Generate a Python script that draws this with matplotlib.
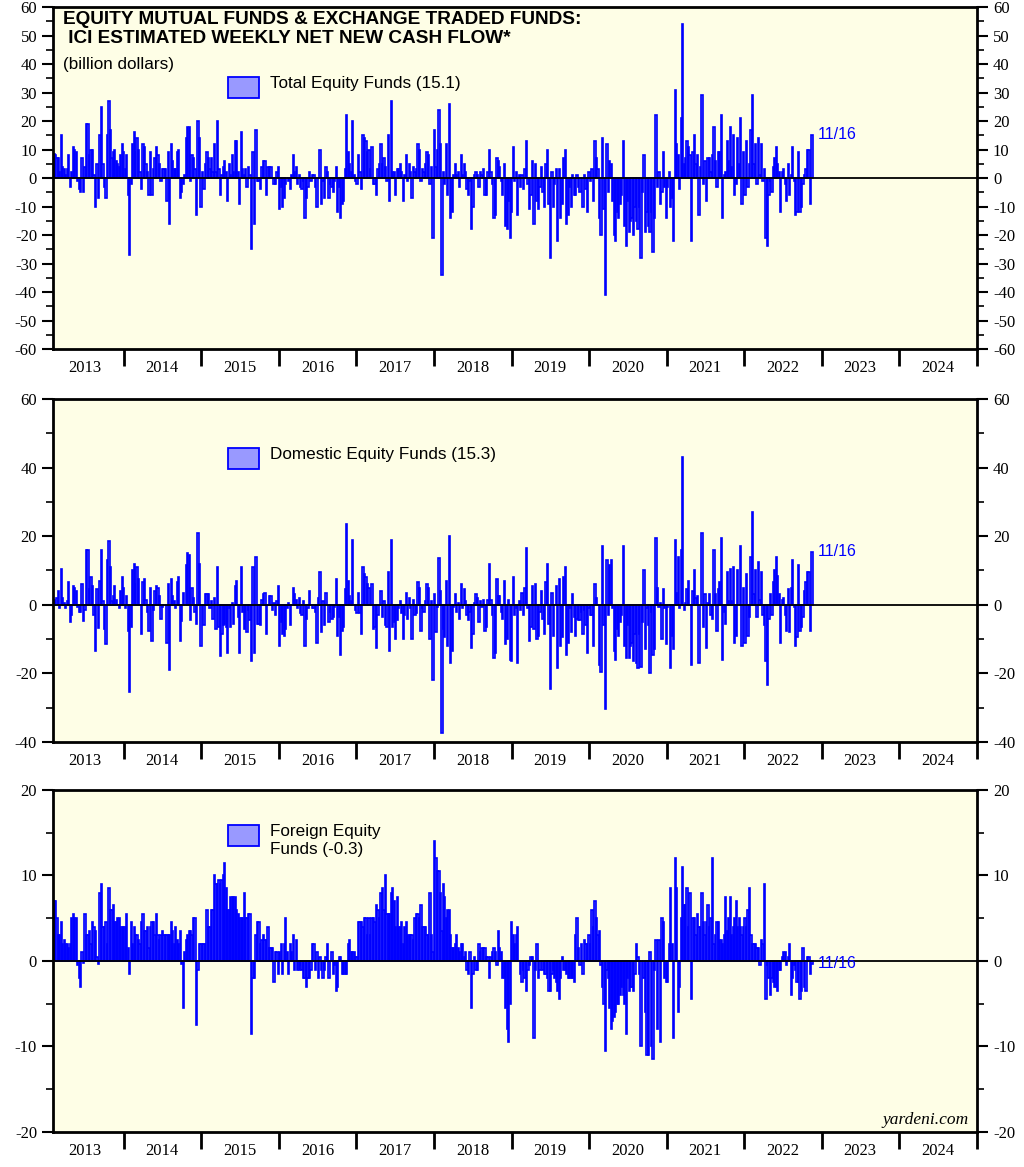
import matplotlib
matplotlib.use("Agg")
import matplotlib.pyplot as plt
import matplotlib.dates as mdates
import matplotlib.ticker as mticker
from matplotlib.patches import Rectangle
import numpy as np
import pandas as pd

plt.rcParams['axes.unicode_minus'] = False

""" Weekly net new cash flow, billion dollars (ICI estimates read off the chart) """
# one list per calendar year: 2013 starts 2/6, 2022 ends 11/16
total_2013 = [8.5, 8, 7, 7, 2, 15, 4, 3, 1, 3, 8, -3, 2, 11, 10, 9, -1, -4, -5, 7,
              -5, 4, 19, 19, 8, 10, 10, 1, -10, 5, -7, 15, 25, 5, -3, -7, 15, 27, 17, 7,
              9, 10, 6, 5, 4, 8, 12]
total_2014 = [9, 3, 8, -6, -27, -2, 12, 16, 9, 14, 10, 2, -4, 12, 11, 5, 2, -6, 9, -6,
              3, 7, 11, 8, 5, -1, 3, 3, 3, -8, 9, -16, 12, 6, 3, 3, 9, 10, -7, -5,
              -2, 1, 14, 18, 18, -1, 8, 7, 3, -13, 20, 14, -10]
total_2015 = [2, -4, 5, 9, 7, 3, 7, 2, 12, 2, 20, 3, -6, 1, 4, 6, 2, -8, 5, 1,
              8, 2, 13, 13, 2, -9, 16, 3, 1, 3, -3, 4, 1, -25, 9, -16, 17, -1, -1, -4,
              4, 6, 6, -6, 4, 4, 4, 0, -2, -2, 2, 4]
total_2016 = [-11, -3, -10, -7, -2, 0, -1, -4, 1, 8, 2, 4, -2, 1, -3, -4, -1, -14, -7, -3,
              2, -1, 1, 1, -3, -10, 0, 10, -9, -1, -7, 4, 2, -7, -2, -3, -5, -1, 4, -12,
              -3, -14, -9, -8, 3, 22, 9, 5, 2, 20, 1, -1]
total_2017 = [-2, 8, 2, -4, 15, 14, 13, 9, 10, 3, 11, -2, -2, -6, 3, 5, 12, 5, 7, 4,
              -1, 15, -8, 27, 2, 2, -6, 3, 3, 5, 2, -8, 1, 8, -1, 5, 2, -7, 4, 2,
              3, 12, 10, -1, 3, 2, 5, 9, 8, -2, 4, -21]
total_2018 = [17, 4, 10, 24, 12, -34, 2, -2, 12, -6, 26, -14, -12, 1, 5, 1, 2, -3, 8, 1,
              5, 2, -4, -6, -1, -18, -10, 1, 2, 1, -3, 2, 1, 3, -6, -6, 2, 10, 2, -2,
              -14, -13, 7, 6, 4, -1, -6, 5, -17, -18, -8, -21]
total_2019 = [-12, 11, -1, 2, -13, 1, -3, 1, -4, 3, 13, -2, -11, -6, 6, -16, 5, -8, -11, -3,
              4, -5, -10, 5, 10, -9, -28, 2, -10, -2, 3, -22, 3, -14, -9, 7, 10, -16, -13, -3,
              -10, 1, -6, -6, 1, -3, -5, 0, -10, 1, -4, -12]
total_2020 = [2, -1, 3, -8, 13, 7, 3, -14, -20, 14, -11, -41, 12, -5, 6, 5, -8, -20, -22, -12,
              -14, -9, -6, 13, -17, -24, -8, -19, -15, -14, -20, -10, -15, -18, -10, -28, -5, 8, -19, -12,
              -17, -19, -12, -26, -14, 22, -3, 2, -9, -5, 9, -3, -14]
total_2021 = [-3, 2, -10, -7, -22, 31, 12, 8, -4, 21, 54, 5, 7, 13, 11, 8, -22, 9, 15, 5,
              8, -13, 4, 29, -2, 6, -8, 7, 7, 2, 8, 18, 6, -3, 9, 9, 22, -14, 1, 2,
              13, 6, 18, 4, 15, -6, -2, 14, 5, 21, -9, 9]
total_2022 = [-6, 13, -3, 5, 17, 29, 5, 12, -2, 14, 1, 12, -1, 3, -21, -24, -6, -1, -5, 4,
              7, 11, 5, 2, -12, 2, 3, -2, -8, 5, -6, 1, 11, -1, -13, -12, 9, -12, -10, -2,
              1, 3, 10, 10, -9, 15.1]

foreign_2013 = [7, 7, 5, 3, 3, 4.5, 2, 2.5, 2, 2, 1.5, 2, 5, 5.5, 5, 5, -0.5, -2, -3, 1,
                -0.2, 5.5, 3, 3, 3.5, 2, 4.5, 4, 3.5, 0.5, -0.3, 8, 9, 4, 4, 4.5, 2, 8.5, 6, 6,
                6.5, 4.5, 4.5, 5, 5, 4, 4]
foreign_2014 = [4, 4, 5.5, 1.5, -1.5, 4.5, 2, 4, 3, 3, 2.5, 2, 4.5, 5.5, 3.5, 3.5, 4, 1.5, 4, 4.5,
                4.5, 3, 5.5, 3, 2.5, 3, 3.5, 3, 3, 3, 3, 3, 4.5, 3.5, 2, 4, 2.5, 2, 3.5, -0.3,
                -5.5, 1, 2.5, 3, 3.5, 3.5, 3, 5, 5, -7.5, -1, 2, 2]
foreign_2015 = [2, 2, 2, 6, 4, 4, 6, 6, 10, 9, 9, 9.5, 9, 9.5, 10, 11.5, 8.5, 6, 6, 7.5,
                7.5, 7.5, 7.5, 6, 5.5, 5, 5, 5, 8, 5, 5, 5.5, 5.5, -8.5, -2, -2, 3, 4.5, 4.5, 2,
                2.5, 3, 2.5, 2.5, 4, 1.5, 1.5, 1.5, -2.5, 1, 1, -1.5]
foreign_2016 = [1, 2, -1.5, 2, 5, 1, -1.5, 2, 1, 3, -1, 2.5, -1, -1, -0.5, -1, -2, -2, -3, -2,
                -2, -1, 2, 2, -1, 1, -2, 0.5, -1, -2, -1, 0.5, 2, -2, 0, 1, -1.5, -0.5, -3.5, -3,
                0.5, 0.5, -1.5, -1.5, -1.5, -1.5, 2, 2.5, 1, 1, 1, 0.5]
foreign_2017 = [0.5, 4.5, 4.5, 4.5, 4, 5, 5, 3, 5, 3, 5, 5, 4.5, 6.5, 6, 5, 8, 8.5, 6, 10,
                5.5, 5.5, 5.5, 8, 8.5, 7, 4, 7.5, 4, 4, 4.5, 2, 4, 4.5, 3, 3, 3, 3, 2.5, 5,
                5.5, 5.5, 5, 6.5, 4, 4, 4, 3, 3, 8, 3, 1]
foreign_2018 = [14, 12, 10.5, 10.5, 8, 3.5, 9, 7.5, 5, 6, 6, 3, 1.5, 1.5, 2, 3, 1.5, 1, 2, 2,
                0.5, 1, -1, -1.5, 1, -5.5, -1.5, 0.5, -1, -1, 2, 1, 1.5, 1.5, 1.5, 0.5, 0.5, -2, 0.5, 1,
                1.5, 1, -0.5, 3.5, 1.5, 1, -2, -2, -5.5, -8, -9.5, -5]
foreign_2019 = [4.5, 3, 2, 3, 4, 0, -1.5, -2.5, -1, -2, -3.5, -1, -0.5, 0.5, 0.5, -9, -1, 2, -2, -1,
                0, -1, -1.5, -1.5, -2, -3.5, -3.5, -1.5, -1, -2, -2.5, -3.5, -4.5, -2, 0.5, -1, -1, -1.5, -2, -2,
                -2, -2, -2.5, 3, 5, 1.5, -0.5, 2, -1.5, 2.5, 2, 2]
foreign_2020 = [3, 2, 6, 4, 7, 5, 3, 3.5, -0.5, -3, -5, -10.5, -1, -2, -5.5, -8, -7, -6.5, -6, -5,
                -5, -4, -3, -4, -5, -8.5, -2, -3.5, -3, -3, -3.5, -1.5, 2, 0.5, -1.5, -10, 0, -2, -6, -11,
                -11, 1, -10, -11.5, -1, 2.5, -8, 2.5, -9.5, 5, 4.5, -2, -2.5]
foreign_2021 = [-2.5, 2, 8.5, 2, -9, 12, 8.5, -6, -3, 5, 11, 6.5, 6.5, 8.5, 4, 8, -4.5, 5, 5, 3,
                5.5, 4, 4, 8, 4.5, 3, 4.5, 6.5, 4, 5, 12, 2, 3, 4.5, 4.5, 2.5, 2.5, 2, 3, 7.5,
                3.5, 5, 7.5, 3, 4, 5, 7, 4, 5, 4, 3, 4]
foreign_2022 = [5, 4, 6, 8.5, 3, 2, 2, 2, 1.5, 1.5, -0.5, 2.5, 2, 9, -4.5, -0.5, -2, -4, -2, -2.5,
                -3, -3, -3.5, -1, -1, 0.5, 1, 1, -0.5, 0.5, 2, -4, -2, -0.5, -1, -2.5, -2.5, -4.5, -3.5, 1.5,
                -3, -3.5, 0.5, 0.5, -1.5, -0.3]

total = np.array(total_2013 + total_2014 + total_2015 + total_2016 + total_2017
                 + total_2018 + total_2019 + total_2020 + total_2021 + total_2022)
foreign = np.array(foreign_2013 + foreign_2014 + foreign_2015 + foreign_2016 + foreign_2017
                   + foreign_2018 + foreign_2019 + foreign_2020 + foreign_2021 + foreign_2022)
n = min(len(total), len(foreign))
total, foreign = total[-n:], foreign[-n:]
domestic = total - foreign          # total = domestic + foreign (world) equity funds
weeks = pd.date_range(end="2022-11-16", periods=n, freq="W-WED")

years = list(range(2013, 2025))
series = [total, domestic, foreign]
labels = ["Total Equity Funds (15.1)", "Domestic Equity Funds (15.3)", "Foreign Equity\nFunds (-0.3)"]
ylims = [(-60, 60), (-40, 60), (-20, 20)]
ysteps = [(10, 5), (20, 10), (10, 5)]


""" Figure & panels """
fig = plt.figure(figsize=(10.24, 11.67), dpi=100)
fig.patch.set_facecolor('white')
boxes = [[0.0518, 0.7009, 0.9023, 0.2931],
         [0.0518, 0.3642, 0.9023, 0.2939],
         [0.0518, 0.0300, 0.9023, 0.2931]]
legend_y = [0.734, 0.796, 0.836]

serif = ['Liberation Serif', 'DejaVu Serif']
sans = ['Liberation Sans', 'DejaVu Sans']
blue = '#0000ff'

for i, ax_box in enumerate(boxes):
    ax = fig.add_axes(ax_box)
    ax.set_facecolor('#fefee6')
    vals = series[i]
    ax.bar(weeks, vals, width=6, color='#9999ff', edgecolor=blue, linewidth=1.2, zorder=2)
    ax.axhline(0, color='black', linewidth=1.3, zorder=3)

    ax.set_xlim(pd.Timestamp("2013-02-02"), pd.Timestamp("2025-01-01"))
    ax.set_ylim(*ylims[i])

    # year boundaries as long ticks, year names centred in between
    ax.xaxis.set_major_locator(mdates.YearLocator())
    ax.xaxis.set_major_formatter(mticker.NullFormatter())
    ax.xaxis.set_minor_locator(mticker.FixedLocator(
        [mdates.date2num(pd.Timestamp(f"{y}-07-01")) for y in years]))
    ax.xaxis.set_minor_formatter(mticker.FixedFormatter([str(y) for y in years]))
    ax.tick_params(axis='x', which='major', direction='out', length=12, width=2)
    ax.tick_params(axis='x', which='minor', length=0, pad=8, labelsize=12)

    ax.yaxis.set_major_locator(mticker.MultipleLocator(ysteps[i][0]))
    ax.yaxis.set_minor_locator(mticker.MultipleLocator(ysteps[i][1]))
    ax.tick_params(axis='y', which='both', direction='out', left=True, right=True,
                   labelleft=True, labelright=True, labelsize=12)
    ax.tick_params(axis='y', which='major', length=8, width=1.5)
    ax.tick_params(axis='y', which='minor', length=5, width=1.2)
    for lab in ax.get_xticklabels(minor=True) + ax.get_yticklabels():
        lab.set_family(serif)

    for sp in ax.spines.values():
        sp.set_linewidth(2)
        sp.set_zorder(4)

    # legend patch and label
    ax.add_patch(Rectangle((0.1894, legend_y[i]), 0.0335, 0.061, transform=ax.transAxes,
                           facecolor='#9999ff', edgecolor=blue, linewidth=1.3, zorder=5))
    ax.text(0.2348, legend_y[i] + 0.042 if i < 2 else legend_y[i] + 0.064, labels[i],
            transform=ax.transAxes, family=sans, fontsize=12.3,
            va='center' if i < 2 else 'top', ha='left', linespacing=1.2, zorder=5)

    # latest date tag
    ax.annotate("11/16", xy=(weeks[-1], vals[-1]), xytext=(4, 0), textcoords='offset points',
                color=blue, fontsize=11.5, family=sans, va='center', ha='left', zorder=5)

    if i == 2:
        ax.text(0.991, 0.035, "yardeni.com", transform=ax.transAxes, ha='right', va='center',
                family=serif, style='italic', fontsize=12.5, zorder=5)

fig.text(63 / 1024, 1 - 11 / 1167,
         "EQUITY MUTUAL FUNDS & EXCHANGE TRADED FUNDS:\n ICI ESTIMATED WEEKLY NET NEW CASH FLOW*",
         family=sans, fontweight='bold', fontsize=13.7, va='top', ha='left', linespacing=1.15)
fig.text(63 / 1024, 1 - 64 / 1167, "(billion dollars)", family=sans, fontsize=12.3,
         va='center', ha='left')

fig.savefig("out.png", dpi=100, facecolor='white')
